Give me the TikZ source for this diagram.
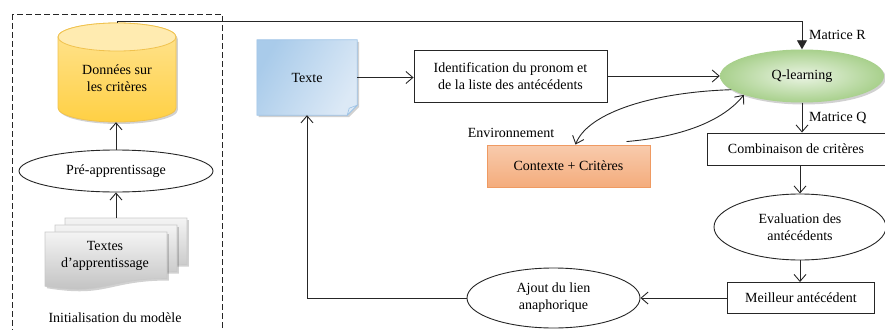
\documentclass[tikz,border=0pt]{standalone}
\usepackage{fontspec}
\setmainfont{Liberation Serif}
\usetikzlibrary{arrows.meta,shapes.geometric,backgrounds,calc}

\definecolor{ink}{HTML}{262626}
\definecolor{cylTop}{HTML}{FFEBB0}
\definecolor{cylA}{HTML}{FFE494}
\definecolor{cylB}{HTML}{FFD044}
\definecolor{cylEdge}{HTML}{F0C24E}
\definecolor{noteA}{HTML}{A9CBEA}
\definecolor{noteB}{HTML}{DCE9F6}
\definecolor{noteEdge}{HTML}{9DC3E6}
\definecolor{qIn}{HTML}{EAF4E3}
\definecolor{qOut}{HTML}{A8D08C}
\definecolor{ctxA}{HTML}{F8CBAD}
\definecolor{ctxB}{HTML}{F4AC7C}
\definecolor{ctxEdge}{HTML}{EF9A62}
\definecolor{docA}{HTML}{F4F4F4}
\definecolor{docB}{HTML}{BDBDBD}
\definecolor{docEdge}{HTML}{C8C8C8}

% one sheet of the document stack, top-left corner at (#1,#2)
\newcommand\docsheet[2]{(#1,#2) -- ++(122,0) -- ++(0,46.5)
  .. controls +(-61,0) and +(61,10) .. ++(-122,7.7) -- cycle}

\tikzset{
  conn/.style={draw=ink, line width=0.9pt},
  arr/.style={conn, -{Straight Barb[length=7pt,width=12pt,line width=0.9pt]}},
  farr/.style={conn, -{Triangle[length=9pt,width=10pt]}},
  plainbox/.style={draw=ink, line width=0.9pt, fill=white, align=center, inner sep=2pt},
  oval/.style={ellipse, draw=ink, line width=0.9pt, fill=white, align=center, inner sep=0pt},
  softshadow/.style={preaction={fill=black, opacity=0.18,
      transform canvas={xshift=1.8pt, yshift=-2pt}}},
  label/.style={align=center, inner sep=0pt},
}

\begin{document}
\begin{tikzpicture}[x=1pt, y=-1pt, font=\fontsize{14}{17}\selectfont]
\clip (0,0) rectangle (885,329);

% ---------- model initialisation column ----------
\draw[ink, line width=0.9pt, dash pattern=on 6pt off 3pt] (12,14) rectangle (222,345);

% training-data cylinder
\path[softshadow, top color=cylA, bottom color=cylB, draw=cylEdge, line width=0.8pt]
  (58,37) -- (58,108) arc[start angle=180, end angle=360, x radius=59pt, y radius=14pt]
  -- (176,37) arc[start angle=0, end angle=180, x radius=59pt, y radius=14pt] -- cycle;
\path[fill=cylTop, draw=cylEdge, line width=0.8pt]
  (117,37) ellipse[x radius=59pt, y radius=14pt];
\node[label, minimum width=118pt, minimum height=99pt] (data) at (117,72.5) {};
\node[label] (datatxt) at (117,78) {Données sur\\les critères};

\node[oval, minimum width=194pt, minimum height=42pt] (pre) at (116,171) {Pré-apprentissage};

% stack of training texts
\path[softshadow, top color=docA, bottom color=docB, draw=docEdge, line width=0.6pt] \docsheet{65}{218};
\path[softshadow, top color=docA, bottom color=docB, draw=docEdge, line width=0.6pt] \docsheet{55}{225};
\path[softshadow, top color=docA, bottom color=docB, draw=docEdge, line width=0.6pt] \docsheet{45}{232};
\node[label] (docs) at (105,256) {Textes\\d’apprentissage};
\coordinate (stacktop) at (116,218);

\node[label] (init) at (115,318) {Initialisation du modèle};

\draw[arr] (pre.north) -- (data.south -| pre.north);
\draw[arr] (stacktop) -- (pre.south);

% ---------- main loop ----------
% text document with folded corner
\node[label, minimum width=100pt, minimum height=75pt] (texte) at (307,77.5) {Texte};
\begin{scope}[on background layer]
  \path[softshadow, left color=noteA, right color=noteB, shading angle=60, draw=noteEdge, line width=0.6pt]
    (texte.north west) -- (texte.north east) -- ([yshift=10pt]texte.south east)
    -- ([xshift=-10pt]texte.south east) -- (texte.south west) -- cycle;
  \path[fill=noteB, draw=noteEdge, line width=0.6pt]
    ([yshift=10pt]texte.south east) -- ([xshift=-8pt, yshift=7pt]texte.south east)
    -- ([xshift=-10pt]texte.south east) -- cycle;
\end{scope}

\node[plainbox, minimum width=193pt, minimum height=52pt] (ident) at (510.5,76)
  {Identification du pronom et\\de la liste des antécédents};

\node[ellipse, inner sep=0pt, minimum width=164pt, minimum height=53pt,
      inner color=qIn, outer color=qOut, softshadow] (qlearn) at (802,76) {Q-learning};

\node[label] (env) at (511,133) {Environnement};
\node[draw=ctxEdge, line width=0.9pt, top color=ctxA, bottom color=ctxB,
      minimum width=163pt, minimum height=42pt, inner sep=0pt] (ctx) at (568.5,166)
  {Contexte + Critères};

\node[plainbox, minimum width=178pt, minimum height=32pt] (combo) at (796,149)
  {Combinaison de critères};
\node[oval, minimum width=172pt, minimum height=66pt] (evalu) at (800,227)
  {Evaluation des\\antécédents};
\node[plainbox, minimum width=147pt, minimum height=31pt] (best) at (801,298)
  {Meilleur antécédent};
\node[oval, minimum width=173pt, minimum height=60pt] (ajout) at (553.5,298)
  {Ajout du lien\\anaphorique};

% connectors
\draw[farr] (data.north) -- ([yshift=1.5pt]data.north) -| (qlearn.north);
\node[label, anchor=west] (matR) at (809,35) {Matrice R};

\draw[arr] (texte.east) -- (texte.east -| ident.west);
\draw[arr] (ident.east) -- (ident.east -| qlearn.west);

\draw[arr] (qlearn.191) .. controls (655,92) and (588,112) .. ([xshift=7pt]ctx.north);
\draw[arr] ([xshift=58pt, yshift=3pt]ctx.north) .. controls (680,137) and (722,122) .. (qlearn.198);

\draw[arr] (qlearn.south) -- (qlearn.south |- combo.north);
\node[label, anchor=west] (matQ) at (809,118) {Matrice Q};
\draw[arr] (combo.south -| evalu.north) -- (evalu.north);
\draw[arr] (evalu.south) -- (evalu.south |- best.north);
\draw[arr] (best.west) -- (ajout.east);
\draw[arr] (ajout.west) -| (texte.south);
\end{tikzpicture}
\end{document}
